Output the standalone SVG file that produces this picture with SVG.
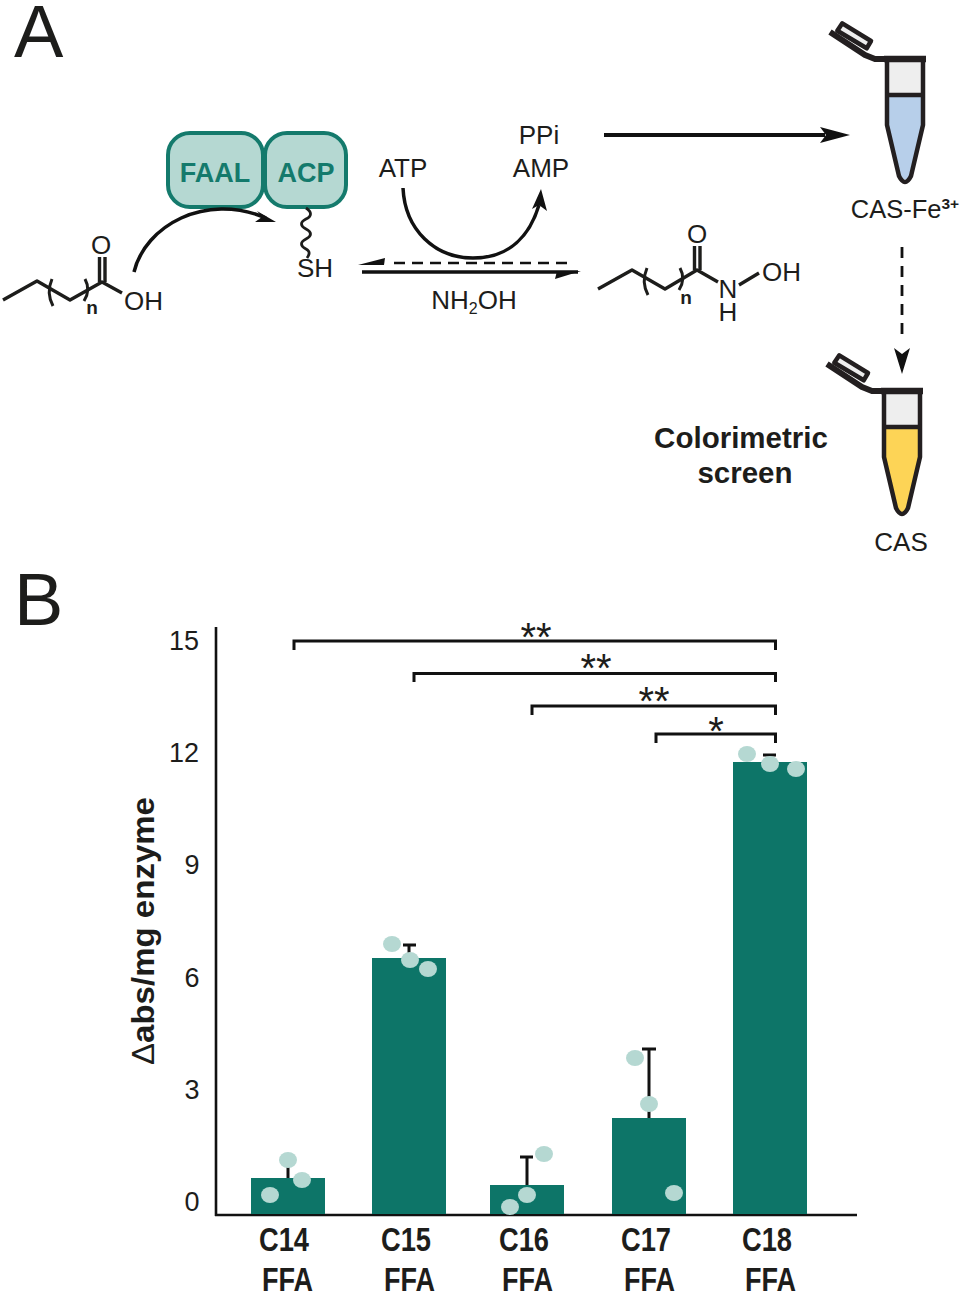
<svg xmlns="http://www.w3.org/2000/svg" width="963" height="1294" viewBox="0 0 963 1294">
<style>
text{font-family:"Liberation Sans",Arial,sans-serif;fill:#1d1d1b}
.l{font-size:26px;text-anchor:middle}
.s{font-size:26px}
.pl{font-size:74px}
.b{font-weight:bold}
.tk{font-size:27px;text-anchor:middle}
.st{font-size:40px;text-anchor:middle}
.xl{font-size:33px;font-weight:bold}
.bond{fill:none;stroke:#1d1d1b;stroke-width:3.4;stroke-linejoin:round}
.thin{fill:none;stroke:#1d1d1b;stroke-width:3}
.ln{fill:none;stroke:#111;stroke-width:3.5}
.brk{fill:none;stroke:#111;stroke-width:3}
.ax{fill:none;stroke:#111;stroke-width:2.6}
.bar{fill:#0d7568}
.dot{fill:#b5d8d2}
.prot{fill:#b5d8d2;stroke:#147a6c;stroke-width:4}
.pt{font-size:27px;font-weight:bold;text-anchor:middle;fill:#147a6c}
.tube{fill:none;stroke:#231f20;stroke-width:4.5;stroke-linejoin:round}
</style>
<defs>
<g id="tube">
<path d="M0,5H36V38H0Z" fill="#eeeeee"/>
<path d="M-44.700,-33.700L-16,-16L-20.300,-8.700L-49.700,-26.300Z" fill="#eeeeee" stroke="#231f20" stroke-width="4.500" stroke-linejoin="round"/>
<path d="M-57,-25L-22,-2L-12,2H0" fill="none" stroke="#231f20" stroke-width="6" stroke-linejoin="round"/>
<path class="tube" d="M0,3V68L12,119Q18,131 24,119L36,68V3"/>
<path d="M-3,2H39" stroke="#231f20" stroke-width="6.500" fill="none"/>
<path d="M-2,38H38" stroke="#231f20" stroke-width="4.500" fill="none"/>
</g>
</defs>

<g id="panel-labels">
<text x="14" y="57" class="pl">A</text>
<text x="14" y="625" class="pl">B</text>
</g>

<g id="node-ffa">
<path class="bond" d="M3,300L37,281L70,300L102,282L122,293"/>
<path class="bond" d="M99.500,282V257M105,282V257"/>
<path class="thin" d="M52,279Q46,293 53,306M85,279Q91,290 84,301"/>
<text x="101" y="254" class="l">O</text>
<text x="124" y="310" class="s">OH</text>
<text x="92" y="314" font-size="19" font-weight="bold" text-anchor="middle">n</text>
</g>

<g id="node-faal">
<rect class="prot" x="168" y="133" width="95" height="74" rx="22"/>
<text x="215" y="182" class="pt">FAAL</text>
</g>
<g id="node-acp">
<rect class="prot" x="265" y="133" width="81" height="74" rx="22"/>
<text x="306" y="182" class="pt">ACP</text>
<path d="M306,208C312,212 312,216 306,219C300,222 300,226 306,229C312,232 312,236 306,239C300,242 300,246 306,249C310,251 310,254 307,258" fill="none" stroke="#1d1d1b" stroke-width="2.800"/>
<text x="315" y="277" class="l">SH</text>
</g>

<g id="node-atp"><text x="403" y="177" class="l">ATP</text></g>
<g id="node-amp">
<text x="539" y="144" class="l">PPi</text>
<text x="541" y="177" class="l">AMP</text>
</g>
<g id="node-nh2oh"><text x="474" y="309" class="l" font-size="25">NH<tspan font-size="16" dy="5">2</tspan><tspan dy="-5">OH</tspan></text></g>

<g id="node-hydroxamate">
<path class="bond" d="M598,289L632,270L665,289L697,270L718,282M739,285L759,273"/>
<path class="bond" d="M694.500,270V246M700,270V246"/>
<path class="thin" d="M647,268Q641,282 648,295M680,268Q686,279 679,290"/>
<text x="697" y="243" class="l">O</text>
<text x="728" y="298" class="l">N</text>
<text x="728" y="321" class="l">H</text>
<text x="762" y="281" class="s">OH</text>
<text x="686" y="304" font-size="19" font-weight="bold" text-anchor="middle">n</text>
</g>

<g id="node-tube-blue">
<path d="M888,95H922V125L909,176Q905,183 901,176L888,125Z" fill="#b7cfea"/>
<use href="#tube" x="887" y="57"/>
<text x="905" y="218" font-size="25.500" text-anchor="middle">CAS-Fe<tspan font-size="15.500" dy="-9" font-weight="bold">3+</tspan></text>
</g>
<g id="node-tube-yellow">
<path d="M885,427H919V457L906,509Q902,516 898,509L885,457Z" fill="#fdd456"/>
<use href="#tube" x="884" y="389"/>
<text x="901" y="551" class="l" font-size="25">CAS</text>
</g>
<g id="node-screen">
<text x="741" y="448" font-size="29.500" font-weight="bold" text-anchor="middle">Colorimetric</text>
<text x="745" y="483" font-size="29.500" font-weight="bold" text-anchor="middle">screen</text>
</g>

<g id="connectors">
<path class="ln" d="M134,272C145,226 205,192 266,218"/>
<path d="M276,222L257,211L262,217L255,222Z" fill="#111"/>
<path class="ln" d="M403,188C405,230 435,258 473,258C510,258 530,235 539,205"/>
<path d="M541,189L547,211L539,205L532,209Z" fill="#111"/>
<path d="M394,263H572" stroke="#111" stroke-width="2.500" stroke-dasharray="11,7" fill="none"/>
<path d="M358,265L385,258L384,265Z" fill="#111"/>
<path d="M362,272H578" stroke="#111" stroke-width="3.500" fill="none"/>
<path d="M581,271L555,279L557,271Z" fill="#111"/>
<path d="M604,135H825" stroke="#111" stroke-width="4" fill="none"/>
<path d="M850,135L820,127L826,135L820,143Z" fill="#111"/>
<path d="M902,247V340" stroke="#111" stroke-width="2.800" stroke-dasharray="11,8" fill="none"/>
<path d="M902,374L894,348L902,354L910,348Z" fill="#111"/>
</g>

<g id="chart-axes">
<path class="ax" d="M216,627V1216M215,1215H857"/>
<text x="184" y="650" class="tk">15</text>
<text x="184" y="762" class="tk">12</text>
<text x="192" y="874" class="tk">9</text>
<text x="192" y="987" class="tk">6</text>
<text x="192" y="1099" class="tk">3</text>
<text x="192" y="1211" class="tk">0</text>
<text transform="translate(154,1065) rotate(-90)" font-size="31" font-weight="bold" textLength="268" lengthAdjust="spacingAndGlyphs"><tspan font-weight="normal">Δ</tspan>abs/mg enzyme</text>
</g>

<g id="bar-c14">
<path class="brk" d="M288,1178V1160"/>
<rect class="bar" x="251" y="1178" width="74" height="36"/>
<ellipse class="dot" cx="288" cy="1160" rx="9" ry="8"/><ellipse class="dot" cx="302" cy="1180" rx="9" ry="8"/><ellipse class="dot" cx="270" cy="1195" rx="9" ry="8"/>
<text x="259" y="1251" class="xl" textLength="50" lengthAdjust="spacingAndGlyphs">C14</text>
<text x="262" y="1291" class="xl" textLength="51" lengthAdjust="spacingAndGlyphs">FFA</text>
</g>
<g id="bar-c15">
<path class="brk" d="M409,958V945M403,945H416"/>
<rect class="bar" x="372" y="958" width="74" height="256"/>
<ellipse class="dot" cx="392" cy="944" rx="9" ry="8"/><ellipse class="dot" cx="410" cy="960" rx="9" ry="8"/><ellipse class="dot" cx="428" cy="969" rx="9" ry="8"/>
<text x="381" y="1251" class="xl" textLength="50" lengthAdjust="spacingAndGlyphs">C15</text>
<text x="384" y="1291" class="xl" textLength="51" lengthAdjust="spacingAndGlyphs">FFA</text>
</g>
<g id="bar-c16">
<path class="brk" d="M527,1185V1157M520,1157H533"/>
<rect class="bar" x="490" y="1185" width="74" height="29"/>
<ellipse class="dot" cx="544" cy="1154" rx="9" ry="8"/><ellipse class="dot" cx="527" cy="1195" rx="9" ry="8"/><ellipse class="dot" cx="510" cy="1207" rx="9" ry="8"/>
<text x="499" y="1251" class="xl" textLength="50" lengthAdjust="spacingAndGlyphs">C16</text>
<text x="502" y="1291" class="xl" textLength="51" lengthAdjust="spacingAndGlyphs">FFA</text>
</g>
<g id="bar-c17">
<path class="brk" d="M649,1118V1049M642,1049H656"/>
<rect class="bar" x="612" y="1118" width="74" height="96"/>
<ellipse class="dot" cx="635" cy="1058" rx="9" ry="8"/><ellipse class="dot" cx="649" cy="1104" rx="9" ry="8"/><ellipse class="dot" cx="674" cy="1193" rx="9" ry="8"/>
<text x="621" y="1251" class="xl" textLength="50" lengthAdjust="spacingAndGlyphs">C17</text>
<text x="624" y="1291" class="xl" textLength="51" lengthAdjust="spacingAndGlyphs">FFA</text>
</g>
<g id="bar-c18">
<path class="brk" d="M763,755H776"/>
<rect class="bar" x="733" y="762" width="74" height="452"/>
<ellipse class="dot" cx="747" cy="754" rx="9" ry="8"/><ellipse class="dot" cx="770" cy="764" rx="9" ry="8"/><ellipse class="dot" cx="796" cy="769" rx="9" ry="8"/>
<text x="742" y="1251" class="xl" textLength="50" lengthAdjust="spacingAndGlyphs">C18</text>
<text x="745" y="1291" class="xl" textLength="51" lengthAdjust="spacingAndGlyphs">FFA</text>
</g>

<g id="significance">
<path class="brk" d="M294,650V641H775.500V650"/>
<path class="brk" d="M414,682V673.500H775.500V682"/>
<path class="brk" d="M532,715V706H775.500V715"/>
<path class="brk" d="M656,743V734H775.500V743"/>
<text x="536" y="651" class="st">**</text>
<text x="596" y="682" class="st">**</text>
<text x="654" y="715" class="st">**</text>
<text x="716" y="745" class="st">*</text>
</g>
</svg>
